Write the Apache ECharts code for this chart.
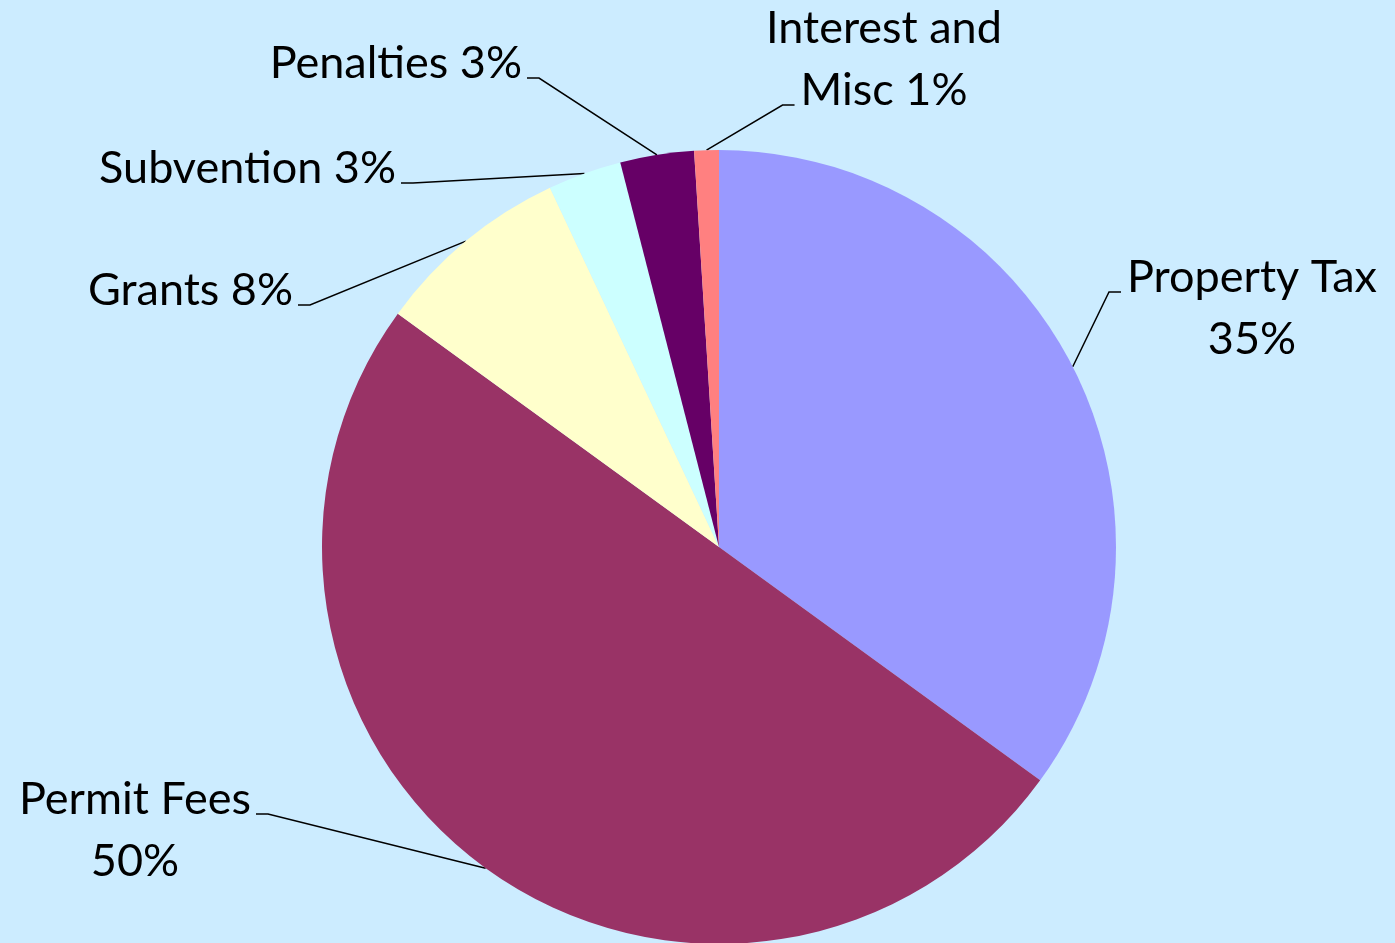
<!DOCTYPE html>
<html>
<head>
<meta charset="utf-8">
<title>Revenue sources</title>
<script src="https://cdn.jsdelivr.net/npm/echarts@6/dist/echarts.min.js"></script>
<style>
  html, body { margin: 0; padding: 0; background: #CCECFF; }
  #chart { width: 1395px; height: 943px; }
</style>
</head>
<body>
<div id="chart"></div>
<script>
// data
const categories = ['Property Tax', 'Permit Fees', 'Grants', 'Subvention', 'Penalties', 'Interest and Misc'];
const shares = [35, 50, 8, 3, 3, 1];
const labelTexts = ['Property Tax\n35%', 'Permit Fees\n50%', 'Grants 8%', 'Subvention 3%', 'Penalties 3%', 'Interest and\nMisc 1%'];
const sliceColors = ['#9999FF', '#993366', '#FFFFCC', '#CCFFFF', '#660066', '#FF8080'];

// label layout: anchor point, text align, side the leader comes from, text line it meets
const FONT = 'Lato';
const FONT_SIZE = 45;
const LINE_H = 62;
const labelSpots = [
  { x: 1252, y: 308, align: 'center', from: 'left', line: 0 },
  { x: 135, y: 830, align: 'center', from: 'right', line: 0 },
  { x: 293, y: 290, align: 'right', from: 'right', line: 0 },
  { x: 396, y: 168, align: 'right', from: 'right', line: 0 },
  { x: 522, y: 63, align: 'right', from: 'right', line: 0 },
  { x: 884, y: 59, align: 'center', from: 'left', line: 1 }
];

const ctx = document.createElement('canvas').getContext('2d');
ctx.font = FONT_SIZE + 'px ' + FONT;
function textWidth (s) {
  return ctx.measureText(s).width;
}

const chart = echarts.init(document.getElementById('chart'));
chart.setOption({
  backgroundColor: '#CCECFF',
  animation: false,
  series: [
    {
      type: 'pie',
      center: [719, 547],
      radius: 397,
      startAngle: 90,
      clockwise: true,
      avoidLabelOverlap: false,
      silent: true,
      data: categories.map((name, i) => ({
        name: name,
        value: shares[i],
        itemStyle: { color: sliceColors[i] }
      })),
      itemStyle: { borderWidth: 0 },
      label: {
        show: true,
        position: 'outside',
        color: '#000',
        fontFamily: FONT,
        fontSize: FONT_SIZE,
        lineHeight: LINE_H,
        formatter: function (p) {
          return labelTexts[p.dataIndex];
        }
      },
      labelLine: {
        show: true,
        length: 10,
        length2: 10,
        lineStyle: { color: '#000', width: 1.5 }
      },
      labelLayout: function (params) {
        const spot = labelSpots[params.dataIndex];
        const lines = labelTexts[params.dataIndex].split('\n');
        const lw = textWidth(lines[spot.line]);
        let left, right;
        if (spot.align === 'center') {
          left = spot.x - lw / 2;
          right = spot.x + lw / 2;
        } else if (spot.align === 'right') {
          left = spot.x - lw;
          right = spot.x;
        } else {
          left = spot.x;
          right = spot.x + lw;
        }
        const top = spot.y - lines.length * LINE_H / 2;
        const stubY = top + spot.line * LINE_H + LINE_H / 2 + 15;
        const start = params.labelLinePoints[0];
        let pts;
        if (spot.from === 'left') {
          pts = [start, [left - 18, stubY], [left - 6, stubY]];
        } else {
          pts = [start, [right + 17, stubY], [right + 5, stubY]];
        }
        return {
          x: spot.x,
          y: spot.y,
          align: spot.align,
          verticalAlign: 'middle',
          labelLinePoints: pts
        };
      }
    }
  ]
});
</script>
</body>
</html>
